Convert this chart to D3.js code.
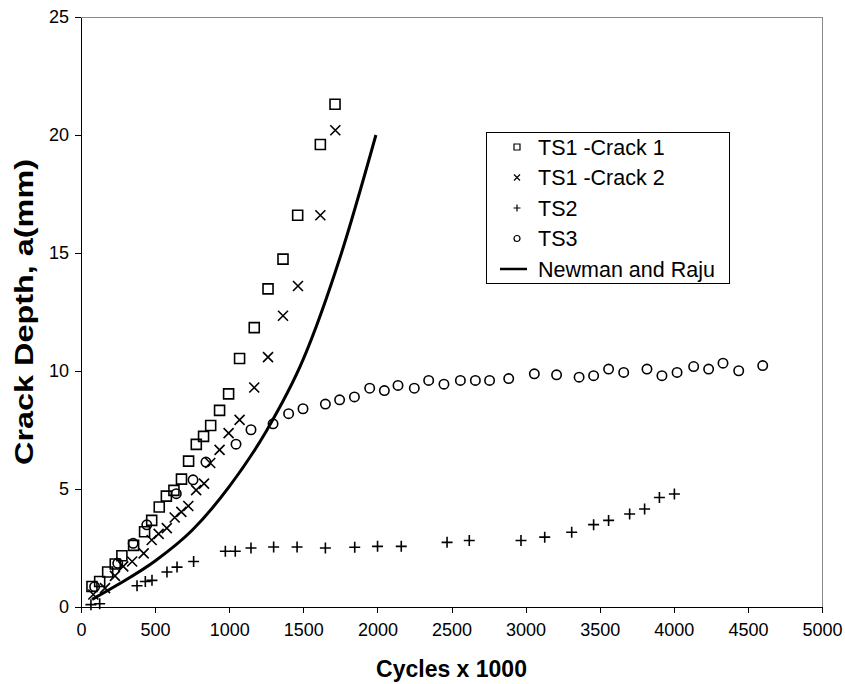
<!DOCTYPE html>
<meta charset="utf-8">
<style type="text/css">
body {
  margin: 0;
  background: #fff;
  font-family: "Liberation Sans", Arial, sans-serif;
}

.axis text {
  font-size: 18px;
  fill: #000;
}

.axis path,
.axis line {
  fill: none;
  stroke: #000;
  stroke-width: 1px;
  shape-rendering: crispEdges;
}

.title {
  font-weight: bold;
  font-size: 23px;
}

.marker {
  fill: none;
  stroke: #000;
  stroke-width: 1.6px;
}

.legend text {
  font-size: 21.5px;
}
</style>
<body>
</body>

<script src="https://cdnjs.cloudflare.com/ajax/libs/d3/7.8.5/d3.min.js"></script>
<script>
// TS1 - Crack 1 (squares)
var crack1X = [74, 126, 180, 231, 276, 355, 429, 477, 528, 576, 627, 678, 726, 778, 827, 875, 935, 996, 1070, 1169, 1262, 1363, 1462, 1615, 1714];
var crack1Y = [0.87, 1.08, 1.48, 1.82, 2.17, 2.61, 3.19, 3.67, 4.24, 4.70, 4.94, 5.42, 6.18, 6.89, 7.23, 7.69, 8.33, 9.03, 10.53, 11.84, 13.48, 14.74, 16.6, 19.6, 21.3];

// TS1 - Crack 2 (crosses)
var crack2X = [83, 162, 229, 285, 345, 423, 477, 524, 579, 632, 677, 724, 777, 830, 872, 935, 996, 1070, 1169, 1262, 1363, 1464, 1615, 1716];
var crack2Y = [0.53, 0.8, 1.32, 1.72, 1.93, 2.27, 2.84, 3.1, 3.34, 3.79, 4.03, 4.28, 4.95, 5.23, 6.1, 6.66, 7.37, 7.93, 9.3, 10.59, 12.34, 13.6, 16.6, 20.2];

// TS2 (plus)
var ts2X = [67, 126, 378, 434, 479, 580, 648, 760, 974, 1041, 1147, 1300, 1458, 1649, 1847, 2001, 2161, 2470, 2620, 2969, 3129, 3311, 3459, 3560, 3702, 3803, 3903, 4004];
var ts2Y = [0.1, 0.14, 0.9, 1.08, 1.13, 1.48, 1.69, 1.93, 2.36, 2.36, 2.5, 2.54, 2.54, 2.5, 2.53, 2.57, 2.57, 2.74, 2.82, 2.82, 2.96, 3.17, 3.49, 3.67, 3.94, 4.15, 4.64, 4.79];

// TS3 (circles)
var ts3X = [92, 248, 352, 444, 643, 756, 843, 1046, 1147, 1296, 1401, 1498, 1649, 1745, 1845, 1948, 2047, 2139, 2249, 2346, 2449, 2560, 2661, 2757, 2886, 3059, 3209, 3361, 3459, 3560, 3662, 3819, 3920, 4022, 4134, 4235, 4332, 4438, 4600];
var ts3Y = [0.86, 1.85, 2.7, 3.48, 4.8, 5.39, 6.14, 6.9, 7.51, 7.76, 8.19, 8.4, 8.6, 8.78, 8.9, 9.27, 9.17, 9.39, 9.27, 9.6, 9.44, 9.6, 9.6, 9.6, 9.68, 9.88, 9.84, 9.74, 9.8, 10.08, 9.94, 10.08, 9.8, 9.94, 10.19, 10.08, 10.33, 10.01, 10.23];

// Newman and Raju prediction
var nrX = [75, 250, 500, 750, 1000, 1250, 1500, 1750, 1990];
var nrY = [0.32, 0.95, 1.95, 3.25, 5.1, 7.45, 10.5, 14.85, 20.0];

var xTicks = [0, 500, 1000, 1500, 2000, 2500, 3000, 3500, 4000, 4500, 5000];
var yTicks = [0, 5, 10, 15, 20, 25];

var legendNames = ["TS1 -Crack 1", "TS1 -Crack 2", "TS2", "TS3", "Newman and Raju"];
var legendKinds = ["square", "cross", "plus", "circle", "line"];

var margin = { top: 17, right: 23, bottom: 77, left: 81 };
var width = 845 - margin.left - margin.right;
var height = 684 - margin.top - margin.bottom;

var svg = d3.select("body")
  .append("svg")
    .attr("width", 845)
    .attr("height", 684)
  .append("g")
    .attr("transform", "translate(" + margin.left + "," + margin.top + ")");

var xscale = d3.scaleLinear()
  .domain([0, 5000])
  .range([0, width]);

var yscale = d3.scaleLinear()
  .domain([0, 25])
  .range([height, 0]);

// plot area border (top and right, grey)
svg.append("path")
  .attr("d", "M0,0H" + width + "V" + height)
  .attr("fill", "none")
  .attr("stroke", "#888")
  .attr("stroke-width", 1)
  .attr("shape-rendering", "crispEdges");

var xAxis = d3.axisBottom(xscale)
  .tickValues(xTicks)
  .tickFormat(d3.format("d"))
  .tickSize(6)
  .tickPadding(6)
  .tickSizeOuter(0);

var yAxis = d3.axisLeft(yscale)
  .tickValues(yTicks)
  .tickFormat(d3.format("d"))
  .tickSize(6)
  .tickPadding(6)
  .tickSizeOuter(0);

svg.append("g")
  .attr("class", "x axis")
  .attr("transform", "translate(0," + height + ")")
  .call(xAxis)
  .selectAll("text")
    .attr("dy", "0.95em");

svg.append("g")
  .attr("class", "y axis")
  .call(yAxis);

svg.selectAll(".axis text").style("font-family", "'Liberation Sans', Arial, sans-serif");

function zip(xs, ys) {
  return xs.map(function(x, i) { return { x: x, y: ys[i] }; });
}

function shape(kind, s) {
  var h = s / 2;
  if (kind == "square") return "M" + (-h) + "," + (-h) + "h" + s + "v" + s + "h" + (-s) + "Z";
  if (kind == "cross") return "M" + (-h) + "," + (-h) + "L" + h + "," + h + "M" + (-h) + "," + h + "L" + h + "," + (-h);
  if (kind == "plus") return "M" + (-h) + ",0H" + h + "M0," + (-h) + "V" + h;
  return null;
}

function drawSeries(points, kind, size) {
  var g = svg.append("g");
  if (kind == "circle") {
    g.selectAll("circle")
      .data(points)
      .enter().append("circle")
      .attr("class", "marker")
      .attr("cx", function(d) { return xscale(d.x); })
      .attr("cy", function(d) { return yscale(d.y); })
      .attr("r", size / 2);
  } else {
    g.selectAll("path")
      .data(points)
      .enter().append("path")
      .attr("class", "marker")
      .attr("transform", function(d) { return "translate(" + xscale(d.x) + "," + yscale(d.y) + ")"; })
      .attr("d", shape(kind, size));
  }
}

var line = d3.line()
  .x(function(d) { return xscale(d.x); })
  .y(function(d) { return yscale(d.y); })
  .curve(d3.curveMonotoneX);

svg.append("path")
  .datum(zip(nrX, nrY))
  .attr("d", line)
  .attr("fill", "none")
  .attr("stroke", "#000")
  .attr("stroke-width", 3);

drawSeries(zip(crack1X, crack1Y), "square", 10);
drawSeries(zip(crack2X, crack2Y), "cross", 10);
drawSeries(zip(ts2X, ts2Y), "plus", 11);
drawSeries(zip(ts3X, ts3Y), "circle", 9.4);

// axis titles
d3.select("svg").append("text")
  .attr("class", "title")
  .attr("x", margin.left + width / 2)
  .attr("y", 677)
  .attr("text-anchor", "middle")
  .text("Cycles x 1000");

d3.select("svg").append("text")
  .attr("class", "title")
  .attr("transform", "translate(33," + (margin.top + height / 2) + ") rotate(-90)")
  .attr("text-anchor", "middle")
  .style("font-size", "25px")
  .attr("textLength", 306)
  .attr("lengthAdjust", "spacingAndGlyphs")
  .text("Crack Depth, a(mm)");

// legend
var legend = d3.select("svg").append("g")
  .attr("class", "legend")
  .attr("transform", "translate(486,132)");

legend.append("rect")
  .attr("width", 243)
  .attr("height", 151)
  .attr("fill", "#fff")
  .attr("stroke", "#000")
  .attr("stroke-width", 1)
  .attr("shape-rendering", "crispEdges");

var rows = legend.selectAll("g.row")
  .data(legendNames)
  .enter().append("g")
  .attr("class", "row")
  .attr("transform", function(d, i) { return "translate(0," + (15 + i * 30.5) + ")"; });

rows.each(function(d, i) {
  var row = d3.select(this);
  var kind = legendKinds[i];
  if (kind == "line") {
    row.append("line")
      .attr("x1", 14).attr("x2", 41)
      .attr("stroke", "#000")
      .attr("stroke-width", 2.5);
  } else if (kind == "circle") {
    row.append("circle")
      .attr("class", "marker")
      .attr("cx", 31)
      .attr("r", 3)
      .style("stroke-width", 1.2);
  } else {
    row.append("path")
      .attr("class", "marker")
      .attr("transform", "translate(31,0)")
      .attr("d", shape(kind, kind == "plus" ? 7 : 6))
      .style("stroke-width", 1.2);
  }
  row.append("text")
    .attr("x", 52)
    .attr("dy", "0.36em")
    .text(d);
});
</script>
